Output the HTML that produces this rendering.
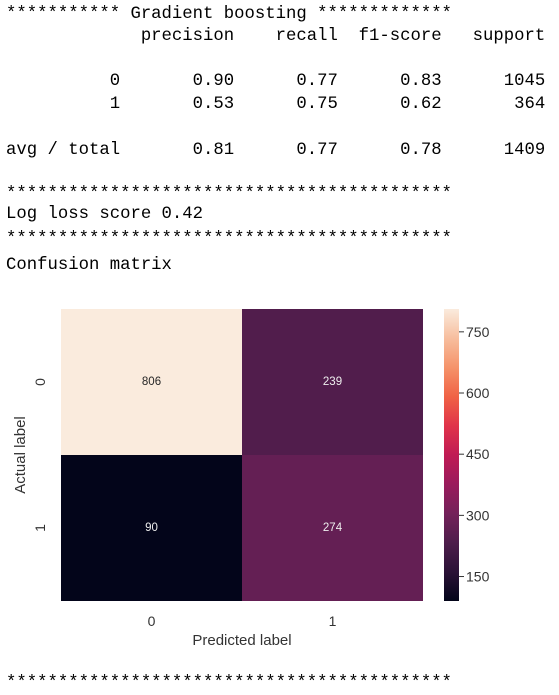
<!DOCTYPE html>
<html><head><meta charset="utf-8">
<style>
body{margin:0;width:559px;height:695px;background:#fff;position:relative;overflow:hidden}
.t{position:absolute;left:6px;font-family:"Liberation Mono",monospace;font-size:17.3px;white-space:pre;color:#000;line-height:20px}
svg{position:absolute;left:0;top:0}
</style></head><body>
<div class="t" style="top:5px">*********** Gradient boosting *************</div>
<div class="t" style="top:27px">             precision    recall  f1-score   support</div>
<div class="t" style="top:72px">          0       0.90      0.77      0.83      1045</div>
<div class="t" style="top:95px">          1       0.53      0.75      0.62       364</div>
<div class="t" style="top:141px">avg / total       0.81      0.77      0.78      1409</div>
<div class="t" style="top:185px">*******************************************</div>
<div class="t" style="top:205px">Log loss score 0.42</div>
<div class="t" style="top:230px">*******************************************</div>
<div class="t" style="top:256px">Confusion matrix</div>
<div class="t" style="top:674px">*******************************************</div>
<svg id="c" width="559" height="695"></svg>
<script>
const rowLabels=["0","1"];
const colLabels=["0","1"];
const matrix=[[806,239],[90,274]];
const cbTicks=[150,300,450,600,750];
const NS="http://www.w3.org/2000/svg";
const svg=document.getElementById('c');
const L=61,T=309,R=423,B=601,CBX=444,CBW=15;
const flat=matrix.flat();const vmin=Math.min(...flat),vmax=Math.max(...flat);
const stops=["#03051A","#2B1237","#4E1D4B","#74215A","#9A1B5C","#C01B54","#E0334A","#F06245","#F5936A","#F7BE9E","#FAEBDD"];
function hex(h){return[1,3,5].map(i=>parseInt(h.substr(i,2),16))}
function cmap(v){let t=(v-vmin)/(vmax-vmin);t=Math.max(0,Math.min(1,t));const p=t*(stops.length-1);const i=Math.min(Math.floor(p),stops.length-2);const f=p-i;const a=hex(stops[i]),b=hex(stops[i+1]);return"rgb("+a.map((x,k)=>Math.round(x+(b[k]-x)*f)).join(",")+")"}
function yCb(v){return B-(v-vmin)/(vmax-vmin)*(B-T)}
function el(n,a,txt){const e=document.createElementNS(NS,n);for(const k in a)e.setAttribute(k,a[k]);if(txt!=null)e.textContent=txt;svg.appendChild(e);return e}
const cw=(R-L)/colLabels.length,ch=(B-T)/rowLabels.length;
matrix.forEach((row,i)=>row.forEach((v,j)=>{
 const r=el('rect',{x:L+j*cw,y:T+i*ch,width:cw,height:ch,fill:cmap(v)});
 
 
 const t=el('text',{x:L+(j+.5)*cw,y:T+(i+.5)*ch+3,'text-anchor':'middle','font-family':'Liberation Sans,sans-serif','font-size':11.5,fill:((v-vmin)/(vmax-vmin)>0.6)?'#262626':'#eee'},v);
 
 
}));
rowLabels.forEach((l,i)=>{const y=T+(i+.5)*ch;const t=el('text',{x:45,y:y,'text-anchor':'middle','font-family':'Liberation Sans,sans-serif','font-size':14,fill:'#333',transform:'rotate(-90 45 '+y+')'},l);
 
 });
colLabels.forEach((l,j)=>{const t=el('text',{x:L+(j+.5)*cw,y:626,'text-anchor':'middle','font-family':'Liberation Sans,sans-serif','font-size':14,fill:'#333'},l);
 
 });
const yt=el('text',{x:25,y:(T+B)/2,'text-anchor':'middle','font-family':'Liberation Sans,sans-serif','font-size':15,fill:'#333',transform:'rotate(-90 25 '+(T+B)/2+')'},'Actual label');


const xt=el('text',{x:(L+R)/2,y:645,'text-anchor':'middle','font-family':'Liberation Sans,sans-serif','font-size':15,fill:'#333'},'Predicted label');


const defs=el('defs',{});const g=document.createElementNS(NS,'linearGradient');g.setAttribute('id','cb');g.setAttribute('x1',0);g.setAttribute('y1',1);g.setAttribute('x2',0);g.setAttribute('y2',0);
stops.forEach((s,i)=>{const st=document.createElementNS(NS,'stop');st.setAttribute('offset',i/(stops.length-1));st.setAttribute('stop-color',s);g.appendChild(st)});defs.appendChild(g);
const cb=el('rect',{x:CBX,y:T,width:CBW,height:B-T,fill:'url(#cb)'});


cbTicks.forEach(v=>{const y=yCb(v);el('line',{x1:CBX+CBW,x2:CBX+CBW+5,y1:y,y2:y,stroke:'#333','stroke-width':1});
 const t=el('text',{x:CBX+CBW+7,y:y+5,'font-family':'Liberation Sans,sans-serif','font-size':14,fill:'#333'},v);
 
 });
</script>
</body></html>
